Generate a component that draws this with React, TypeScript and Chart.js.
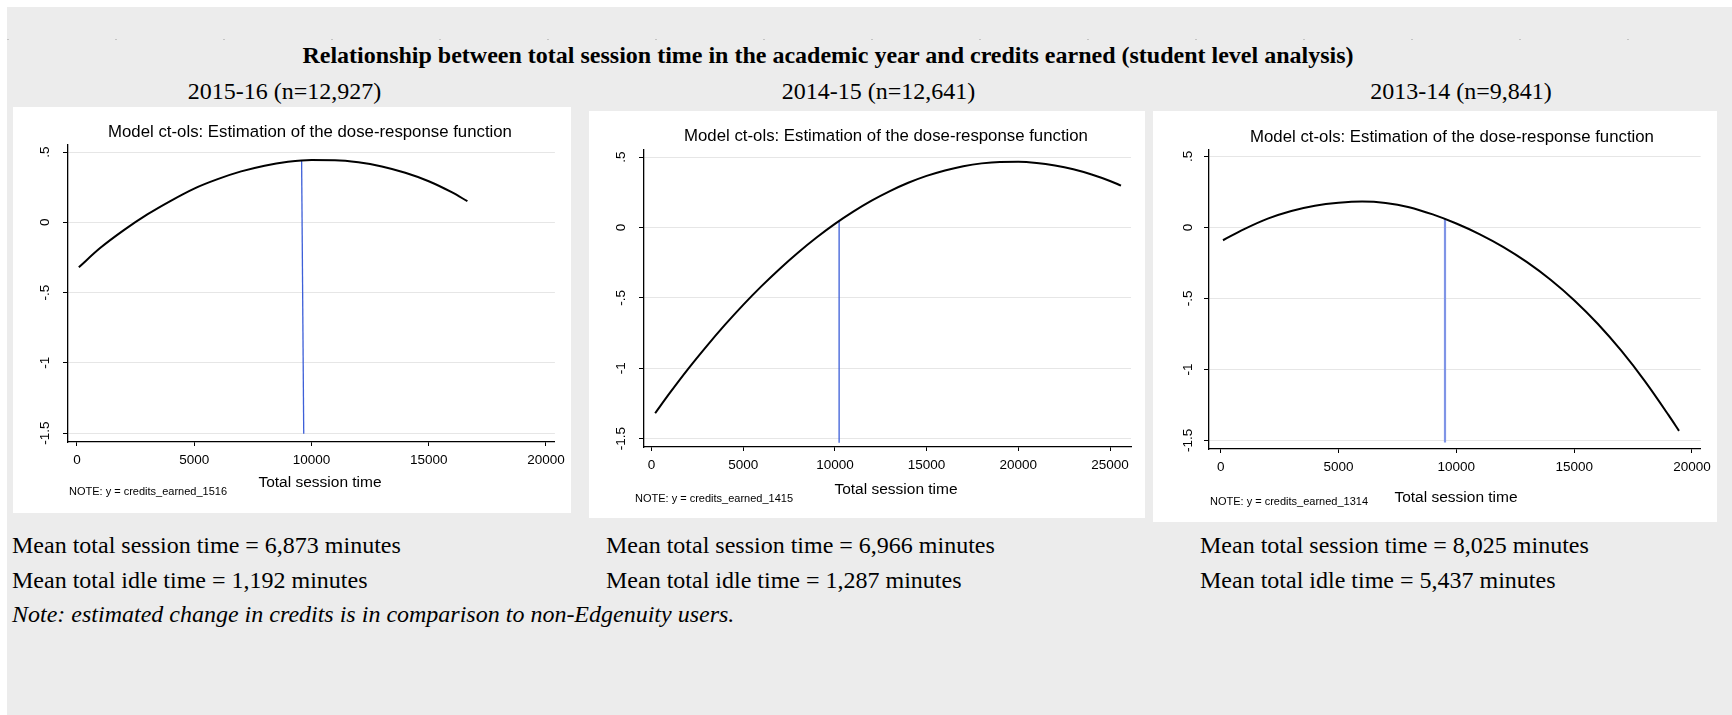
import React, { useEffect, useRef } from 'react';
import { Chart, registerables } from 'chart.js';

Chart.register(...registerables);

// ---- text ----
const FIGURE_TITLE =
  'Relationship between total session time in the academic year and credits earned (student level analysis)';
const PANEL_TITLE = 'Model ct-ols: Estimation of the dose-response function';
const X_AXIS_TITLE = 'Total session time';
const FOOTNOTE = 'Note: estimated change in credits is in comparison to non-Edgenuity users.';

// ---- shared y axis ----
const Y_TICKS = [-1.5, -1, -0.5, 0, 0.5];
const Y_TICK_LABELS = ['-1.5', '-1', '-.5', '0', '.5'];

// ---- 2015-16 ----
const HEADER_1516 = '2015-16 (n=12,927)';
const NOTE_1516 = 'NOTE: y = credits_earned_1516';
const SESSION_1516 = [80, 1000, 2000, 3000, 4000, 5000, 6000, 7000, 8000, 9000, 10000, 11000, 12000, 13000, 14000, 15000, 16000, 16650];
const CREDITS_1516 = [-0.32, -0.182, -0.056, 0.056, 0.153, 0.24, 0.307, 0.362, 0.403, 0.43, 0.443, 0.442, 0.427, 0.397, 0.352, 0.292, 0.212, 0.15];
const MEAN_SESSION_1516 = [9580, 9670];
const MEAN_CREDITS_1516 = [0.438, -1.505];
const X_TICKS_1516 = [0, 5000, 10000, 15000, 20000];
const STATS_1516 = ['Mean total session time = 6,873 minutes', 'Mean total idle time = 1,192 minutes'];

// ---- 2014-15 ----
const HEADER_1415 = '2014-15 (n=12,641)';
const NOTE_1415 = 'NOTE: y = credits_earned_1415';
const SESSION_1415 = [200, 1000, 2000, 3000, 4000, 5000, 6000, 7000, 8000, 9000, 10000, 11000, 12000, 13000, 14000, 15000, 16000, 17000, 18000, 19000, 20000, 21000, 22000, 23000, 24000, 25000, 25600];
const CREDITS_1415 = [-1.32, -1.176, -1.005, -0.845, -0.693, -0.55, -0.417, -0.293, -0.178, -0.072, 0.025, 0.112, 0.19, 0.258, 0.317, 0.366, 0.405, 0.435, 0.455, 0.465, 0.466, 0.458, 0.44, 0.413, 0.376, 0.33, 0.297];
const MEAN_SESSION_1415 = [10230, 10230];
const MEAN_CREDITS_1415 = [0.047, -1.53];
const X_TICKS_1415 = [0, 5000, 10000, 15000, 20000, 25000];
const STATS_1415 = ['Mean total session time = 6,966 minutes', 'Mean total idle time = 1,287 minutes'];

// ---- 2013-14 ----
const HEADER_1314 = '2013-14 (n=9,841)';
const NOTE_1314 = 'NOTE: y = credits_earned_1314';
const SESSION_1314 = [100, 1000, 2000, 3000, 4000, 5000, 6000, 7000, 8000, 9000, 10000, 11000, 12000, 13000, 14000, 15000, 16000, 17000, 18000, 19000, 19450];
const CREDITS_1314 = [-0.09, -0.012, 0.062, 0.116, 0.153, 0.174, 0.183, 0.173, 0.143, 0.092, 0.028, -0.048, -0.138, -0.244, -0.368, -0.512, -0.678, -0.868, -1.082, -1.32, -1.432];
const MEAN_SESSION_1314 = [9520, 9520];
const MEAN_CREDITS_1314 = [0.059, -1.515];
const X_TICKS_1314 = [0, 5000, 10000, 15000, 20000];
const STATS_1314 = ['Mean total session time = 8,025 minutes', 'Mean total idle time = 5,437 minutes'];

const SANS = '"Liberation Sans", Arial, Helvetica, sans-serif';
const SERIF = '"Liberation Serif", "Times New Roman", Times, serif';

type PanelSpec = {
  note: string;
  session: number[];
  credits: number[];
  meanSession: number[];
  meanCredits: number[];
  xTicks: number[];
  xMin: number;
  xMax: number;
  yMin: number;
  yMax: number;
  meanColor: string;
  meanWidth: number;
  // layout of the white panel (page pixels) and the plot inside it
  left: number;
  top: number;
  width: number;
  height: number;
  plotTop: number;
  yAxisWidth: number;
  xAxisHeight: number;
  padRight: number;
  titleX: number;
  titleY: number;
  xTitleX: number;
  xTitleY: number;
  noteX: number;
  noteY: number;
  yLabelX: number;
};

const PANELS: PanelSpec[] = [
  {
    note: NOTE_1516, session: SESSION_1516, credits: CREDITS_1516,
    meanSession: MEAN_SESSION_1516, meanCredits: MEAN_CREDITS_1516, xTicks: X_TICKS_1516,
    xMin: -382, xMax: 20382, yMin: -1.564, yMax: 0.55,
    meanColor: '#3d5fd8', meanWidth: 1.3,
    left: 13, top: 107, width: 558, height: 406,
    plotTop: 38, yAxisWidth: 55, xAxisHeight: 71, padRight: 14,
    titleX: 297, titleY: 30, xTitleX: 307, xTitleY: 379.5, noteX: 56, noteY: 388, yLabelX: 36,
  },
  {
    note: NOTE_1415, session: SESSION_1415, credits: CREDITS_1415,
    meanSession: MEAN_SESSION_1415, meanCredits: MEAN_CREDITS_1415, xTicks: X_TICKS_1415,
    xMin: -409, xMax: 26145, yMin: -1.56, yMax: 0.55,
    meanColor: '#3d5fd8', meanWidth: 1.3,
    left: 589, top: 111, width: 556, height: 407,
    plotTop: 39, yAxisWidth: 55, xAxisHeight: 71, padRight: 14,
    titleX: 297, titleY: 30, xTitleX: 307, xTitleY: 382.5, noteX: 46, noteY: 391, yLabelX: 36,
  },
  {
    note: NOTE_1314, session: SESSION_1314, credits: CREDITS_1314,
    meanSession: MEAN_SESSION_1314, meanCredits: MEAN_CREDITS_1314, xTicks: X_TICKS_1314,
    xMin: -494, xMax: 20368, yMin: -1.56, yMax: 0.549,
    meanColor: '#7f94e6', meanWidth: 2.2,
    left: 1153, top: 111, width: 564, height: 411,
    plotTop: 38.5, yAxisWidth: 56, xAxisHeight: 73, padRight: 14,
    titleX: 299, titleY: 30.5, xTitleX: 303, xTitleY: 391, noteX: 57, noteY: 394, yLabelX: 38.5,
  },
];

function DosePanel({ spec }: { spec: PanelSpec }) {
  const ref = useRef<HTMLCanvasElement>(null);

  useEffect(() => {
    const canvas = ref.current;
    if (!canvas) return;

    // panel texts and the rotated y tick labels
    const textPlugin = {
      id: 'panelText',
      afterDraw(chart: any) {
        const ctx = chart.ctx as CanvasRenderingContext2D;
        ctx.save();
        ctx.fillStyle = '#000';
        ctx.textBaseline = 'alphabetic';

        ctx.font = `16.8px ${SANS}`;
        ctx.textAlign = 'center';
        ctx.fillText(PANEL_TITLE, spec.titleX, spec.titleY);

        ctx.font = `15.5px ${SANS}`;
        ctx.fillText(X_AXIS_TITLE, spec.xTitleX, spec.xTitleY);

        ctx.font = `11px ${SANS}`;
        ctx.textAlign = 'left';
        ctx.fillText(spec.note, spec.noteX, spec.noteY);

        const ys = chart.scales.y;
        ctx.font = `13.5px ${SANS}`;
        ctx.textAlign = 'center';
        Y_TICKS.forEach((v, i) => {
          const py = ys.getPixelForValue(v);
          ctx.save();
          ctx.translate(spec.yLabelX, py);
          ctx.rotate(-Math.PI / 2);
          ctx.fillText(Y_TICK_LABELS[i], 0, 0);
          ctx.restore();
        });
        ctx.restore();
      },
    };

    const chart = new Chart(canvas, {
      type: 'line',
      data: {
        datasets: [
          {
            data: spec.session.map((x, i) => ({ x, y: spec.credits[i] })),
            borderColor: '#000',
            borderWidth: 2,
            pointRadius: 0,
            cubicInterpolationMode: 'monotone',
          },
          {
            data: spec.meanSession.map((x, i) => ({ x, y: spec.meanCredits[i] })),
            borderColor: spec.meanColor,
            borderWidth: spec.meanWidth,
            pointRadius: 0,
            tension: 0,
          },
        ],
      },
      options: {
        responsive: false,
        animation: false,
        devicePixelRatio: 1,
        events: [],
        layout: { padding: { top: spec.plotTop, right: spec.padRight, left: 0, bottom: 0 } },
        plugins: {
          legend: { display: false },
          title: { display: false },
          tooltip: { enabled: false },
        },
        scales: {
          x: {
            type: 'linear',
            min: spec.xMin,
            max: spec.xMax,
            afterBuildTicks: (s: any) => {
              s.ticks = spec.xTicks.map((value) => ({ value }));
            },
            afterFit: (s: any) => {
              s.height = spec.xAxisHeight;
            },
            grid: {
              drawOnChartArea: false,
              drawTicks: true,
              tickLength: 4,
              tickColor: '#000',
              tickWidth: 1,
            },
            border: { color: '#000', width: 1.3 },
            ticks: {
              color: '#000',
              font: { family: SANS, size: 13.5 },
              padding: 6,
              maxRotation: 0,
              autoSkip: false,
              callback: (v: any) => String(v),
            },
          },
          y: {
            type: 'linear',
            min: spec.yMin,
            max: spec.yMax,
            afterBuildTicks: (s: any) => {
              s.ticks = Y_TICKS.map((value) => ({ value }));
            },
            afterFit: (s: any) => {
              s.width = spec.yAxisWidth;
            },
            grid: {
              color: '#e6e6e6',
              lineWidth: 1,
              drawTicks: true,
              tickLength: 5,
              tickColor: '#000',
              tickWidth: 1,
            },
            border: { color: '#000', width: 1.3 },
            ticks: { display: false },
          },
        },
      },
      plugins: [textPlugin],
    } as any);

    return () => chart.destroy();
  }, [spec]);

  return (
    <div
      style={{
        position: 'absolute',
        left: spec.left,
        top: spec.top,
        width: spec.width,
        height: spec.height,
        background: '#fff',
      }}
    >
      <canvas ref={ref} width={spec.width} height={spec.height} style={{ display: 'block' }} />
    </div>
  );
}

// positions a serif line of text by its baseline
function SerifLine(props: {
  text: string;
  x: number;
  baseline: number;
  size?: number;
  bold?: boolean;
  italic?: boolean;
  center?: boolean;
}) {
  const size = props.size ?? 24;
  return (
    <div
      style={{
        position: 'absolute',
        left: props.x,
        top: props.baseline - 0.8375 * size,
        transform: props.center ? 'translateX(-50%)' : undefined,
        fontFamily: SERIF,
        fontSize: size,
        lineHeight: `${size}px`,
        fontWeight: props.bold ? 'bold' : 'normal',
        fontStyle: props.italic ? 'italic' : 'normal',
        whiteSpace: 'nowrap',
        color: '#000',
      }}
    >
      {props.text}
    </div>
  );
}

export default function App() {
  return (
    <div
      style={{
        position: 'fixed',
        left: 0,
        top: 0,
        width: 1732,
        height: 715,
        background: '#fff',
        overflow: 'hidden',
      }}
    >
      <div
        style={{
          position: 'absolute',
          left: 7,
          top: 7,
          right: 0,
          bottom: 0,
          background: '#ececec',
        }}
      />
      {/* faint dotted rule across the top */}
      <div
        style={{
          position: 'absolute',
          left: 7,
          top: 39,
          right: 0,
          height: 1,
          background: 'repeating-linear-gradient(to right, #c4c4c4 0px, #c4c4c4 2px, transparent 2px, transparent 108px)',
        }}
      />

      <SerifLine text={FIGURE_TITLE} x={828} baseline={63} bold center />
      <SerifLine text={HEADER_1516} x={284.5} baseline={99.3} center />
      <SerifLine text={HEADER_1415} x={878.5} baseline={99.3} center />
      <SerifLine text={HEADER_1314} x={1461} baseline={99.3} center />

      {PANELS.map((p, i) => (
        <DosePanel key={i} spec={p} />
      ))}

      <SerifLine text={STATS_1516[0]} x={12} baseline={553} />
      <SerifLine text={STATS_1516[1]} x={12} baseline={588} />
      <SerifLine text={STATS_1415[0]} x={606} baseline={553} />
      <SerifLine text={STATS_1415[1]} x={606} baseline={588} />
      <SerifLine text={STATS_1314[0]} x={1200} baseline={553} />
      <SerifLine text={STATS_1314[1]} x={1200} baseline={588} />
      <SerifLine text={FOOTNOTE} x={12} baseline={622} italic />
    </div>
  );
}
